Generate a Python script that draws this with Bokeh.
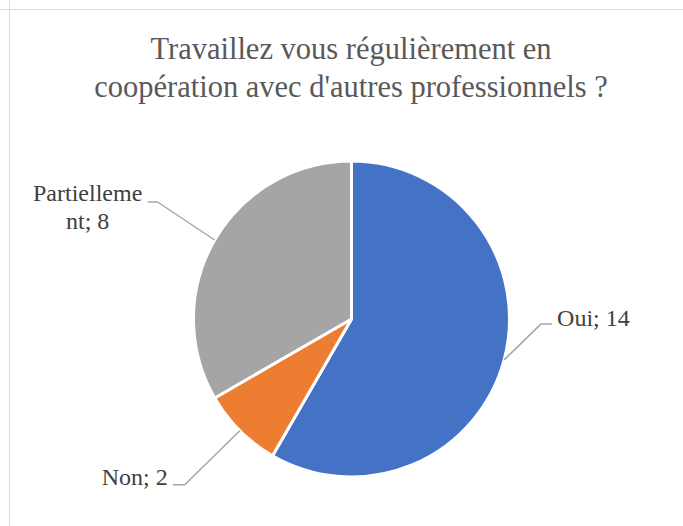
import math
import textwrap
from bokeh.plotting import figure
from bokeh.models import Range1d, Span, ColumnDataSource
from bokeh.core.properties import value
from bokeh.embed import file_html
from bokeh.resources import INLINE

# ---- data ----
categories = ["Oui", "Non", "Partiellement"]
counts = [14, 2, 8]
colors = ["#4472C4", "#ED7D31", "#A5A5A5"]
title_lines = ["Travaillez vous régulièrement en",
               "coopération avec d'autres professionnels ?"]

# ---- layout (pixels, window coordinates; data y = H - window y) ----
W, H = 683, 526
CX, CY = 351, H - 318.5
R = 158
LEADER_R = 158
# per label: elbow dx, elbow dy (screen, y down), arm length (signed), text dx, text dy, align
LABEL_LAYOUT = [
    (37, -36, 11, 5, 2, "left"),
    (-55, 54, -12, -5, 0, "right"),
    (-57, -38, -10, -60, -1, "center"),
]
FONT = "Liberation Serif"
LABEL_SIZE = "24px"
LINE_STEP = 28
LABEL_SHIFT = 8      # raise label text (px)
TITLE_Y0 = 48        # window y of first title baseline (after correction)

p = figure(width=W, height=H, x_range=Range1d(0, W), y_range=Range1d(0, H),
           x_axis_type=None, y_axis_type=None, toolbar_location=None,
           output_backend="svg", min_border=0)
p.outline_line_color = None
p.grid.visible = False

total = sum(counts)
starts, ends, mids = [], [], []
cum = 0
for c in counts:
    a0 = math.pi / 2 - 2 * math.pi * cum / total
    cum += c
    a1 = math.pi / 2 - 2 * math.pi * cum / total
    starts.append(a0)
    ends.append(a1)
    mids.append((a0 + a1) / 2)

src = ColumnDataSource(dict(start=starts, end=ends, color=colors))
p.wedge(x=CX, y=CY, radius=R, start_angle="start", end_angle="end",
        direction="clock", fill_color="color", line_color="white",
        line_width=3, source=src)

for i, t in enumerate(title_lines):
    p.text(x=[350.5], y=[H - TITLE_Y0 - i * 38], text=[t],
           text_font=value(FONT), text_font_size="30.5px",
           text_color="#595959", text_align="center", text_baseline="alphabetic")

for cat, cnt, mid, lay in zip(categories, counts, mids, LABEL_LAYOUT):
    edx, edy, arm, tdx, tdy, align = lay
    sx = CX + LEADER_R * math.cos(mid)
    sy = CY + LEADER_R * math.sin(mid)
    ex, ey = sx + edx, sy - edy
    fx, fy = ex + arm, ey
    p.line(x=[sx, ex, fx], y=[sy, ey, fy], line_color="#A6A6A6", line_width=1.5)
    lines = textwrap.wrap(f"{cat}; {cnt}", 11)
    for j, ln in enumerate(lines):
        p.text(x=[fx + tdx], y=[fy - tdy - j * LINE_STEP + LABEL_SHIFT], text=[ln],
               text_font=value(FONT), text_font_size=LABEL_SIZE,
               text_color="#404040", text_align=align, text_baseline="alphabetic")

p.add_layout(Span(location=H - 9, dimension="width", line_color="#D9D9D9", line_width=1))
p.add_layout(Span(location=9, dimension="height", line_color="#D9D9D9", line_width=1))

open("out.html", "w").write(file_html(p, INLINE))
